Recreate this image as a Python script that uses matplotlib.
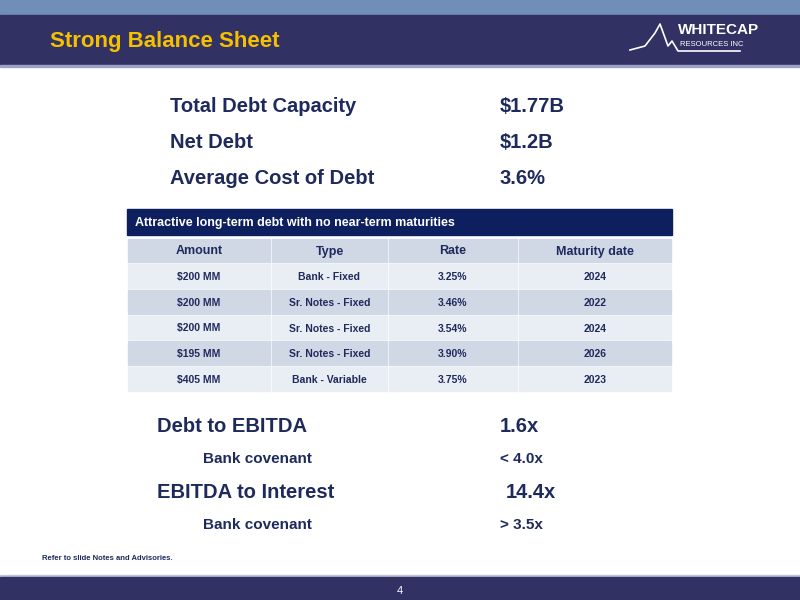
import matplotlib
matplotlib.use("Agg")
import matplotlib.pyplot as plt
from matplotlib.patches import Rectangle

title = "Strong Balance Sheet"
summary_labels = ["Total Debt Capacity", "Net Debt", "Average Cost of Debt"]
summary_values = ["$1.77B", "$1.2B", "3.6%"]
table_title = "Attractive long-term debt with no near-term maturities"
columns = ["Amount", "Type", "Rate", "Maturity date"]
amounts = ["$200 MM", "$200 MM", "$200 MM", "$195 MM", "$405 MM"]
types = ["Bank - Fixed", "Sr. Notes - Fixed", "Sr. Notes - Fixed", "Sr. Notes - Fixed", "Bank - Variable"]
rates = ["3.25%", "3.46%", "3.54%", "3.90%", "3.75%"]
maturities = ["2024", "2022", "2024", "2026", "2023"]
ratio_labels = ["Debt to EBITDA", "Bank covenant", "EBITDA to Interest", "Bank covenant"]
ratio_values = ["1.6x", "< 4.0x", "14.4x", "> 3.5x"]
footnote = "Refer to slide Notes and Advisories."
page = "4"

FN = ["Liberation Sans", "DejaVu Sans"]
NAVY = "#1f2a5c"

fig = plt.figure(figsize=(8, 6), dpi=100)
ax = fig.add_axes([0, 0, 1, 1])
ax.set_xlim(0, 800); ax.set_ylim(600, 0); ax.axis("off")

ax.add_patch(Rectangle((0, 0), 800, 15, color="#6f8fb8"))
ax.add_patch(Rectangle((0, 15), 800, 50, color="#313163"))
ax.add_patch(Rectangle((0, 65), 800, 2, color="#9aa3c4"))
ax.add_patch(Rectangle((0, 575), 800, 2, color="#c0c6d6"))
ax.add_patch(Rectangle((0, 577), 800, 23, color="#313163"))

ax.text(50, 41, title, color="#f5c000", fontsize=16, fontweight="bold", family=FN, va="center")
ax.text(678, 30, "WHITECAP", color="white", fontsize=11, fontweight="bold", family=FN, va="center")
ax.text(680, 44, "RESOURCES INC", color="white", fontsize=5.5, family=FN, va="center")
ax.plot([630, 645, 655, 660, 668, 672, 678, 740], [50, 46, 33, 24, 46, 41, 51, 51], color="white", lw=1.2)

for i, (l, v) in enumerate(zip(summary_labels, summary_values)):
    y = 106 + i * 36
    ax.text(170, y, l, color=NAVY, fontsize=14.5, fontweight="bold", family=FN, va="center")
    ax.text(500, y, v, color=NAVY, fontsize=14.5, fontweight="bold", family=FN, va="center")

ax.add_patch(Rectangle((127, 209), 545, 26, color="#0d1f5e"))
ax.text(135, 223, table_title, color="white", fontsize=9, fontweight="bold", family=FN, va="center")
edges = [127, 271, 388, 518, 672]
rows = [columns] + [list(r) for r in zip(amounts, types, rates, maturities)]
tops = [238, 263, 289, 315, 340, 366, 392]
for r, row in enumerate(rows):
    y0, y1 = tops[r], tops[r + 1]
    col = "#d0d8e6" if r % 2 == 0 else "#e9edf4"
    for c, txt in enumerate(row):
        ax.add_patch(Rectangle((edges[c] + 0.8, y0 + 0.8), edges[c + 1] - edges[c] - 1.6, y1 - y0 - 1.6, color=col))
        ax.text((edges[c] + edges[c + 1]) / 2, (y0 + y1) / 2 + 1, txt, color=NAVY,
                fontsize=9 if r == 0 else 7.5, fontweight="bold", family=FN, ha="center", va="center")

ys = [427, 459, 492, 525]
xs = [157, 203, 157, 203]
sizes = [14.5, 11, 14.5, 11]
vx = [500, 500, 506, 500]
for l, v, y, x, s, x2 in zip(ratio_labels, ratio_values, ys, xs, sizes, vx):
    ax.text(x, y, l, color=NAVY, fontsize=s, fontweight="bold", family=FN, va="center")
    ax.text(x2, y, v, color=NAVY, fontsize=s, fontweight="bold", family=FN, va="center")

ax.text(42, 559, footnote, color=NAVY, fontsize=5.5, fontweight="bold", family=FN, va="center")
ax.text(400, 591, page, color="white", fontsize=8, family=FN, ha="center", va="center")

fig.savefig("out.png", dpi=100)
